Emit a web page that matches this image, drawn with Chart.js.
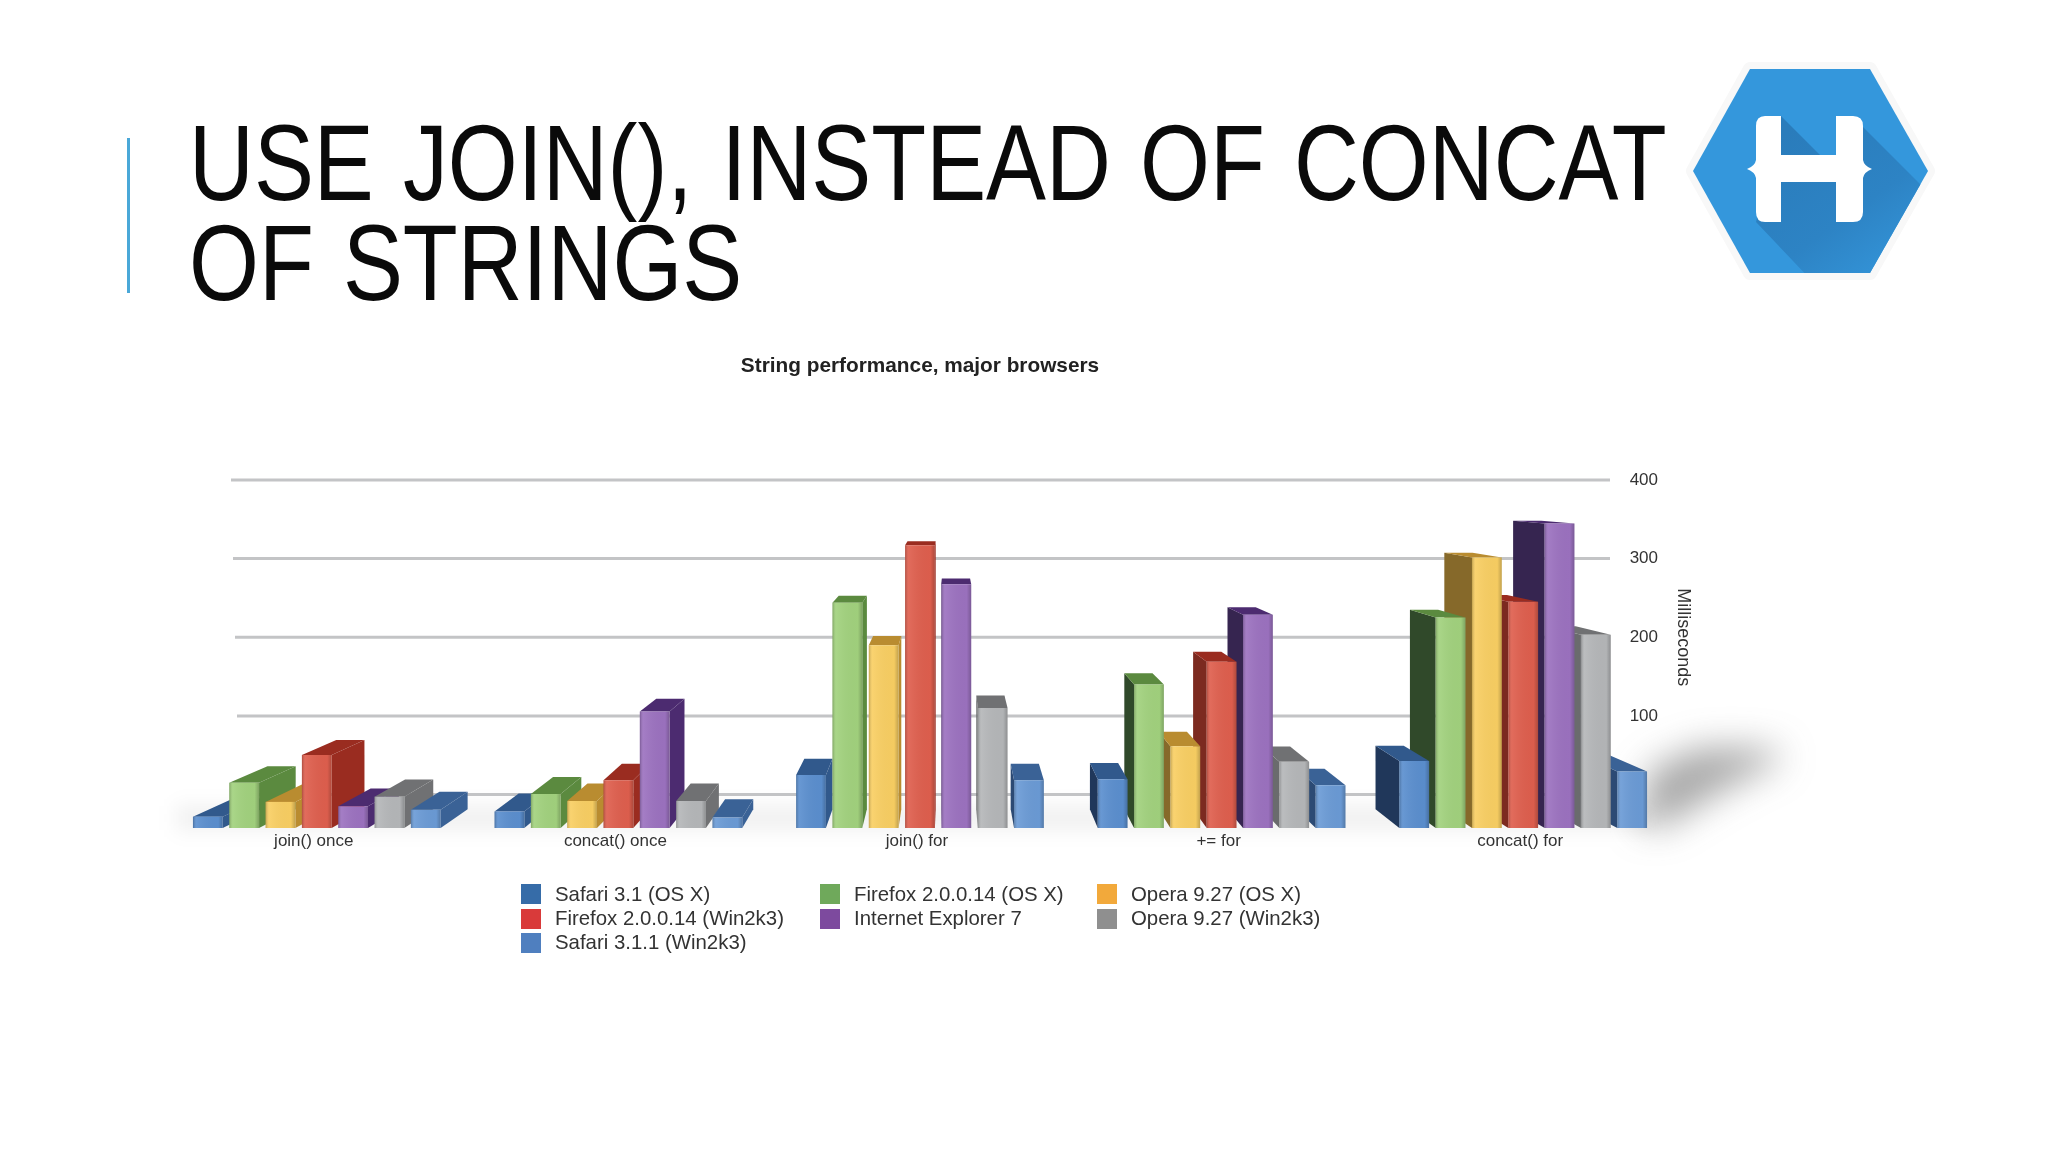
<!DOCTYPE html>
<html>
<head>
<meta charset="utf-8">
<title>String performance</title>
<script src="https://cdn.jsdelivr.net/npm/chart.js@4"></script>
<style>
  html, body { margin: 0; padding: 0; background: #fff; }
  body { position: relative; width: 2048px; height: 1152px; overflow: hidden; font-family: "Liberation Sans", sans-serif; }
  #chart { position: absolute; left: 0; top: 0; }
  #accent { position: absolute; left: 127px; top: 138px; width: 3px; height: 155px; background: #4aa8d8; }
  #heading {
    position: absolute; left: 189px; top: 113px; margin: 0; white-space: nowrap;
    font-weight: normal; font-size: 108px; line-height: 100px; color: #0a0a0a; word-spacing: 5px;
    transform: scaleX(0.832); transform-origin: left top;
  }
  #logo { position: absolute; left: 1680px; top: 50px; }
  #legend {
    position: absolute; left: 521px; top: 882px;
    display: grid; grid-template-columns: 299px 277px auto; grid-auto-rows: 24.4px;
    font-size: 20.4px; color: #333;
  }
  #legend div { display: flex; align-items: center; white-space: nowrap; }
  #legend i { display: block; width: 20px; height: 20px; margin-right: 14px; }
</style>
</head>
<body>
<div id="accent"></div>
<h1 id="heading">USE JOIN(), INSTEAD OF CONCAT<br>OF STRINGS</h1>
<svg id="logo" width="270" height="244" viewBox="1680 50 270 244">
  <defs>
    <clipPath id="hex"><path d="M1750 69H1870L1928 171L1870 273H1750L1693 171Z"/></clipPath>
    <linearGradient id="fade" gradientUnits="userSpaceOnUse" x1="1790" y1="130" x2="1890" y2="270">
      <stop offset="0" stop-color="#2a7cbb"/>
      <stop offset="0.6" stop-color="#2d83c4"/>
      <stop offset="1" stop-color="#3393d7"/>
    </linearGradient>
  </defs>
  <path d="M1750 69H1870L1928 171L1870 273H1750L1693 171Z" fill="#fff" stroke="#f8f8f8" stroke-width="14" stroke-linejoin="round"/>
  <path d="M1750 69H1870L1928 171L1870 273H1750L1693 171Z" fill="#3497dc"/>
  <g clip-path="url(#hex)">
    <path d="M1781 116L1820 155H1836V116L1863 127L1960 224V300H1830L1756 222Z" fill="url(#fade)"/>
  </g>
  <path d="M1765 116H1781V155H1836V116H1853Q1863 116 1863 126V160Q1864 166 1872 169Q1864 172 1863 178V212Q1863 222 1853 222H1836V182H1781V222H1765Q1756 222 1756 212V178Q1755 172 1747 169Q1755 166 1756 160V126Q1756 116 1765 116Z" fill="#fff"/>
</svg>
<canvas id="chart" width="2048" height="1152"></canvas>
<div id="legend"></div>

<script>
const categories = ['join() once', 'concat() once', 'join() for', '+= for', 'concat() for'];
const seriesNames = [
  'Safari 3.1 (OS X)', 'Firefox 2.0.0.14 (OS X)', 'Opera 9.27 (OS X)',
  'Firefox 2.0.0.14 (Win2k3)', 'Internet Explorer 7', 'Opera 9.27 (Win2k3)',
  'Safari 3.1.1 (Win2k3)'
];
const safariOsx = [13, 19, 61, 56, 77];
const firefoxOsx = [52, 39, 259, 165, 242];
const operaOsx = [30, 31, 210, 94, 311];
const firefoxWin = [84, 55, 325, 191, 260];
const ie7 = [25, 134, 280, 245, 350];
const operaWin = [36, 31, 138, 76, 222];
const safariWin = [21, 12, 55, 49, 65];
const seriesValues = [safariOsx, firefoxOsx, operaOsx, firefoxWin, ie7, operaWin, safariWin];
const wallTicks = [0, 100, 200, 300, 400];

const frontColors = ['#5b8fcf', '#a2d27e', '#f9cf63', '#df5f4e', '#9c72c0', '#b5b7b9', '#6b9bd6'];
const topColors = ['#31598c', '#5b8a3f', '#b98c30', '#9a2c20', '#4c2b70', '#707173', '#3a6296'];
const sideColors = ['#20375a', '#30492a', '#86692a', '#7c2a20', '#362550', '#6a6b6d', '#2c4a74'];
const legendColors = ['#366ca8', '#6fa95b', '#f2a93b', '#d93a3a', '#7d4a9e', '#8f8f8f', '#4f7fbf'];

// perspective of the bar extrusion, everything runs toward this point
const vanishX = 950, vanishY = 472, depth = 0.053;
const toBack = (x, y) => [x + (vanishX - x) * depth, y + (vanishY - y) * depth];

function quad(ctx, pts, color) {
  ctx.fillStyle = color;
  ctx.beginPath();
  pts.forEach((p, i) => i ? ctx.lineTo(p[0], p[1]) : ctx.moveTo(p[0], p[1]));
  ctx.closePath();
  ctx.fill();
}

const scenePlugin = {
  id: 'scene',
  beforeDatasetsDraw(chart) {
    const ctx = chart.ctx, area = chart.chartArea, wall = chart.scales.wall;
    ctx.save();
    // floor shadows
    ctx.filter = 'blur(10px)';
    ctx.fillStyle = 'rgba(0,0,0,0.06)';
    ctx.fillRect(area.left + 10, area.bottom - 22, area.right - area.left - 30, 24);
    ctx.filter = 'blur(18px)';
    quad(ctx, [[1640, 825], [1650, 770], [1700, 748], [1762, 748], [1786, 757], [1725, 788], [1660, 828]], 'rgba(80,80,80,0.5)');
    ctx.filter = 'none';

    // wall gridlines stop short of the bars on both sides
    ctx.strokeStyle = '#c3c4c6';
    ctx.lineWidth = 3;
    wall.ticks.forEach(t => {
      const y = wall.getPixelForValue(t.value);
      ctx.beginPath();
      ctx.moveTo(231 + (400 - t.value) * 0.02, y);
      ctx.lineTo(1610, y);
      ctx.stroke();
    });

    // sides and tops, outer bars first
    const faces = [];
    chart.getSortedVisibleDatasetMetas().forEach(meta => {
      meta.data.forEach(bar => faces.push({ bar, s: meta.index }));
    });
    faces.sort((a, b) => Math.abs(b.bar.x - vanishX) - Math.abs(a.bar.x - vanishX));
    faces.forEach(({ bar, s }) => {
      const l = bar.x - bar.width / 2, r = bar.x + bar.width / 2;
      const leftHalf = bar.x < vanishX;
      const edge = leftHalf ? r : l;
      // the light comes from the left, so the far group has the dark flanks
      const side = leftHalf ? topColors[s] : sideColors[s];
      quad(ctx, [[edge, bar.y], [edge, bar.base], toBack(edge, bar.base), toBack(edge, bar.y)], side);
      quad(ctx, [[l, bar.y], [r, bar.y], toBack(r, bar.y), toBack(l, bar.y)], topColors[s]);
    });
    ctx.restore();
  },
  afterDatasetsDraw(chart) {
    // rounded shading across each front face
    const ctx = chart.ctx;
    ctx.save();
    chart.getSortedVisibleDatasetMetas().forEach(meta => {
      meta.data.forEach(bar => {
        const l = bar.x - bar.width / 2;
        const g = ctx.createLinearGradient(l, 0, l + bar.width, 0);
        g.addColorStop(0, 'rgba(0,0,0,0.22)');
        g.addColorStop(0.12, 'rgba(255,255,255,0.08)');
        g.addColorStop(0.85, 'rgba(0,0,0,0.02)');
        g.addColorStop(1, 'rgba(0,0,0,0.22)');
        ctx.fillStyle = g;
        ctx.fillRect(l, bar.y, bar.width, bar.base - bar.y);
      });
    });
    // axis caption sits centred on the 200 gridline
    const wall = chart.scales.wall;
    ctx.translate(1683, wall.getPixelForValue(200));
    ctx.rotate(Math.PI / 2);
    ctx.fillStyle = '#333';
    ctx.font = '18px "Liberation Sans"';
    ctx.textAlign = 'center';
    ctx.textBaseline = 'middle';
    ctx.fillText('Milliseconds', 0, 0);
    ctx.restore();
  }
};

new Chart(document.getElementById('chart'), {
  type: 'bar',
  data: {
    labels: categories,
    datasets: seriesNames.map((name, i) => ({
      label: name,
      data: seriesValues[i],
      backgroundColor: frontColors[i],
      categoryPercentage: 0.843,
      barPercentage: 0.82,
      clip: false
    }))
  },
  options: {
    responsive: false,
    devicePixelRatio: 1,
    animation: false,
    layout: { padding: { left: 166, right: 374, top: 0, bottom: 284 } },
    plugins: {
      legend: { display: false },
      tooltip: { enabled: false },
      title: {
        display: true,
        text: 'String performance, major browsers',
        color: '#222',
        font: { family: '"Liberation Sans"', size: 20.8, weight: 'bold' },
        padding: { top: 353.5, bottom: 101.5 }
      }
    },
    scales: {
      x: {
        grid: { display: false },
        border: { display: false },
        afterFit(scale) { scale.height = 40; },
        ticks: { padding: -4.5, labelOffset: -3, maxRotation: 0, color: '#333', font: { family: '"Liberation Sans"', size: 17 } }
      },
      y: { display: false, min: 0, max: 400 },
      wall: {
        position: 'right',
        min: -42.5,
        max: 400,
        grid: { display: false, drawTicks: false },
        border: { display: false },
        afterFit(scale) { scale.width = 0; },
        afterBuildTicks(scale) { scale.ticks = wallTicks.map(value => ({ value })); },
        ticks: {
          mirror: true,
          padding: -16,
          color: '#333',
          font: { family: '"Liberation Sans"', size: 17 },
          callback: v => (v === 0 ? '' : String(v))
        }
      }
    }
  },
  plugins: [scenePlugin]
});

const legend = document.getElementById('legend');
seriesNames.forEach((name, i) => {
  const item = document.createElement('div');
  const swatch = document.createElement('i');
  swatch.style.background = legendColors[i];
  item.appendChild(swatch);
  item.appendChild(document.createTextNode(name));
  legend.appendChild(item);
});
</script>
</body>
</html>
